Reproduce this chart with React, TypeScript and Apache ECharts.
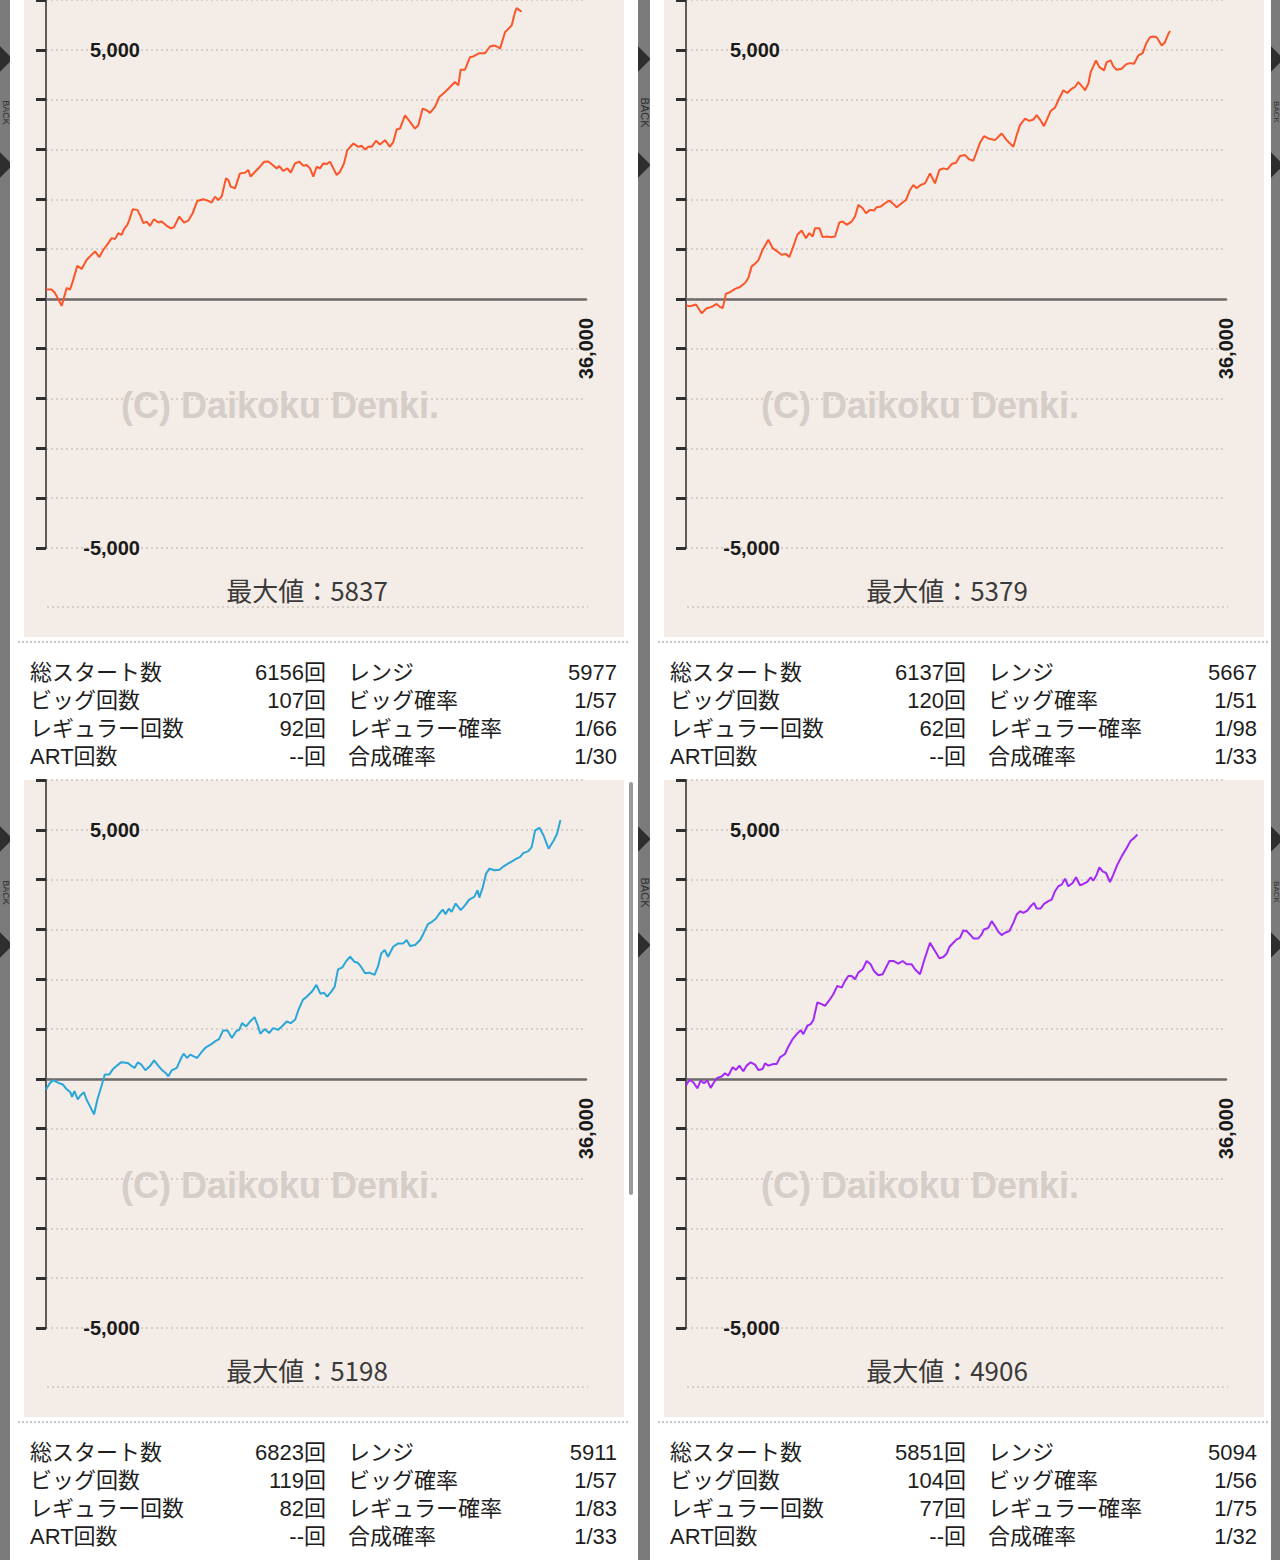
import React, { useEffect, useRef } from "react";
import * as echarts from "echarts";

// ---------- data (games on x, coin difference on y) ----------
const games1 = [0,378,600,1044,1378,1600,1822,2089,2378,2711,2933,3267,3556,3822,4156,4378,4600,4822,5044,5200,5422,5556,5778,6089,6267,6489,6711,6933,7200,7489,7711,8044,8311,8533,8889,9200,9489,9778,10089,10489,10822,11044,11267,11489,11711,12000,12156,12311,12600,12933,13267,13489,13644,13933,14267,14533,14822,15111,15378,15556,15822,16089,16311,16600,16889,17156,17378,17600,17822,18044,18267,18489,18711,18933,19156,19378,19600,19867,20089,20489,20822,21044,21267,21489,21711,22000,22267,22600,22933,23156,23378,23600,23933,24267,24600,24822,25111,25378,25600,25933,26222,26600,26933,27267,27489,27644,27933,28267,28489,28889,29267,29600,29867,30156,30267,30600,30822,31044,31267,31378,31600,31711];
const diff1 = [187,187,120,-140,220,187,387,667,600,787,853,953,840,987,1120,1220,1200,1320,1287,1400,1487,1587,1800,1787,1687,1520,1553,1467,1600,1533,1553,1467,1420,1440,1653,1533,1573,1720,1967,2000,1967,1933,2053,1987,2053,2420,2387,2253,2220,2520,2533,2587,2453,2553,2653,2753,2760,2687,2620,2667,2567,2620,2533,2720,2753,2673,2687,2620,2453,2653,2620,2720,2707,2753,2620,2487,2553,2720,2987,3120,3053,3073,3000,3053,3053,3173,3100,3187,3053,3153,3400,3420,3687,3553,3420,3487,3820,3787,3733,3853,4053,4153,4253,4353,4287,4600,4600,4853,4867,4933,4933,5067,5087,5053,5020,5353,5420,5487,5753,5837,5787,5767];

const games2 = [0,267,667,1044,1378,1711,2044,2267,2444,2667,2933,3267,3600,3933,4156,4378,4600,4822,5111,5489,5778,6089,6378,6667,6889,7156,7422,7711,8000,8222,8444,8600,8889,9111,9378,9711,9933,10222,10444,10711,11044,11267,11489,11778,12000,12267,12533,12711,12978,13267,13556,13822,14044,14378,14667,14933,15156,15378,15644,15933,16267,16600,16889,17156,17422,17711,18000,18267,18600,18889,19156,19378,19600,19867,20156,20600,21044,21378,21822,22044,22267,22600,22889,23156,23378,23600,23867,24089,24311,24600,24822,25156,25422,25711,25933,26156,26444,26600,26822,26978,27333,27556,27867,28044,28311,28489,28711,29044,29333,29600,29867,30156,30444,30667,30933,31156,31378,31711,31933,32156,32267];
const diff2 = [-133,-147,-113,-288,-187,-160,-100,-160,-187,107,133,200,240,320,420,653,707,773,987,1187,1020,953,887,900,840,1053,1287,1373,1220,1320,1253,1420,1420,1240,1253,1240,1253,1533,1553,1487,1553,1653,1887,1820,1720,1787,1773,1840,1853,1920,1973,1907,1840,1920,1987,2187,2287,2220,2287,2320,2520,2320,2587,2620,2600,2707,2733,2867,2887,2800,2773,2953,3133,3267,3220,3187,3320,3187,3053,3287,3487,3620,3573,3600,3687,3600,3467,3620,3773,3840,3987,4187,4133,4220,4253,4353,4253,4187,4320,4553,4787,4653,4587,4753,4787,4667,4600,4620,4707,4733,4720,4887,4933,5120,5253,5267,5253,5087,5153,5320,5379];

const games3 = [0,271,496,834,1127,1397,1622,1735,1893,2118,2299,2524,2704,2929,3200,3425,3695,3921,4214,4439,4732,5002,5453,5678,5904,6129,6355,6624,6918,7211,7481,7751,7977,8157,8383,8720,9013,9171,9397,9622,9847,10072,10411,10680,10974,11267,11537,11807,12100,12393,12664,12889,13069,13340,13610,13903,14128,14286,14579,14872,15142,15481,15774,16044,16314,16607,16832,17125,17396,17734,18027,18297,18523,18748,19019,19244,19469,19762,19987,20280,20551,20776,21001,21272,21565,21902,22128,22353,22579,22804,23142,23480,23818,24043,24268,24607,24944,25170,25463,25733,26003,26229,26454,26635,26860,27040,27310,27649,27942,28212,28550,28775,28888,29113,29338,29564,29902,30240,30510,30803,31096,31366,31592,31817,32155,32380,32606,32898,33169,33507,33845,34070,34296];
const diff3 = [-213,-80,-27,-80,-113,-213,-267,-360,-247,-413,-333,-267,-413,-547,-713,-413,-147,87,87,187,267,333,320,267,220,333,287,173,253,373,267,173,120,53,173,220,420,507,420,487,453,420,553,640,687,753,800,973,973,820,953,987,1120,1053,1153,1240,1067,907,1000,920,1020,987,1067,1153,1120,1187,1387,1587,1653,1753,1887,1707,1733,1653,1753,1853,2200,2240,2353,2453,2353,2333,2253,2120,2133,2087,2253,2520,2587,2453,2653,2720,2720,2787,2667,2687,2787,2920,3107,3153,3220,3320,3400,3307,3420,3353,3520,3387,3487,3600,3653,3787,3640,3840,4120,4220,4187,4200,4267,4320,4373,4420,4453,4533,4573,4653,4987,5040,4887,4620,4787,4920,5198];

const games4 = [0,222,489,756,978,1200,1422,1644,1867,2089,2378,2600,2822,3111,3333,3556,3822,4044,4311,4600,4822,5111,5267,5489,5822,6044,6267,6600,6822,7111,7422,7644,7822,8089,8311,8489,8756,9044,9267,9556,9822,10089,10378,10600,10822,11044,11267,11489,11778,12044,12311,12533,12822,13111,13333,13556,13822,14156,14444,14711,15044,15267,15600,15933,16267,16600,16889,17156,17378,17556,17822,18044,18267,18489,18711,18933,19156,19489,19711,19867,20156,20378,20600,20822,21044,21267,21556,21822,22044,22267,22489,22756,22978,23200,23378,23644,23867,24156,24378,24600,24822,25044,25267,25489,25778,26000,26267,26489,26756,26978,27156,27378,27556,27778,28000,28267,28489,28756,29044,29378,29644,29867,30089];
const diff4 = [-133,-20,-67,-188,-33,-87,-33,-180,-67,20,47,113,67,233,180,267,153,267,333,287,180,200,313,267,300,300,433,500,647,800,913,980,900,1067,1100,1180,1533,1500,1467,1580,1700,1867,1833,1967,2067,2067,2000,2133,2200,2367,2300,2167,2080,2100,2233,2367,2367,2313,2367,2300,2300,2200,2100,2433,2733,2567,2420,2447,2513,2647,2733,2800,2833,2980,2967,2900,2820,2820,2900,3000,3033,3167,3067,2953,2887,2933,2967,3133,3300,3367,3333,3380,3467,3533,3420,3420,3513,3567,3600,3767,3867,3900,4020,3867,3933,4047,3887,3913,3953,4047,3980,4100,4247,4167,4133,3953,4100,4300,4467,4633,4780,4833,4906];

// ---------- axis / labels ----------
const yTickLabels: Record<number, string> = { 5000: "5,000", [-5000]: "-5,000" };
const xTickLabels: Record<number, string> = { 36000: "36,000" };
const yMin = -5000;
const yMax = 6000;
const yStep = 1000;
const xMin = 0;
const xMax = 36000;

// ---------- stats ----------
const panelMax = [5837, 5379, 5198, 4906];
const leftLabels = ["総スタート数", "ビッグ回数", "レギュラー回数", "ART回数"];
const rightLabels = ["レンジ", "ビッグ確率", "レギュラー確率", "合成確率"];
const totalStarts = ["6156", "6137", "6823", "5851"];
const bigCounts = ["107", "120", "119", "104"];
const regCounts = ["92", "62", "82", "77"];
const artCounts = ["--", "--", "--", "--"];
const ranges = ["5977", "5667", "5911", "5094"];
const bigProbs = ["1/57", "1/51", "1/57", "1/56"];
const regProbs = ["1/66", "1/98", "1/83", "1/75"];
const totalProbs = ["1/30", "1/33", "1/33", "1/32"];

const lineColors = ["#fc5529", "#fc5529", "#2aa6d8", "#a428f6"];
const PX = [0, 640, 0, 640];
const PY = [0, 0, 780, 780];
const PINK = "#f4ece7";
const STRIP_GRAY = "#7b7b7b";
const FONT = '"Liberation Sans", "Noto Sans CJK JP", sans-serif';

function zip(xs: number[], ys: number[]) {
  return xs.map((x, i) => [x, ys[i]]);
}

function BackTab({ top, width }: { top: number; width: number }) {
  const fs = Math.max(8, width - 1);
  return (
    <div style={{ position: "absolute", left: 0, top, width, height: 200 }}>
      <div
        style={{
          position: "absolute",
          left: -9,
          top: 50,
          width: 18,
          height: 18,
          background: "#2e2e2e",
          transform: "rotate(45deg)",
        }}
      />
      <div
        style={{
          position: "absolute",
          left: (width - 50) / 2,
          top: 112 - fs / 2,
          width: 50,
          height: fs,
          transform: "rotate(90deg)",
          transformOrigin: "center",
          fontFamily: FONT,
          fontSize: fs,
          lineHeight: fs + "px",
          color: "#2e2e2e",
          textAlign: "center",
        }}
      >
        BACK
      </div>
      <div
        style={{
          position: "absolute",
          left: -9,
          top: 156,
          width: 18,
          height: 18,
          background: "#2e2e2e",
          transform: "rotate(45deg)",
        }}
      />
    </div>
  );
}

function Strip({ left, width }: { left: number; width: number }) {
  return (
    <div
      style={{
        position: "absolute",
        left,
        top: 0,
        width,
        height: 1560,
        background: STRIP_GRAY,
        overflow: "hidden",
      }}
    >
      <BackTab top={0} width={width} />
      <BackTab top={780} width={width} />
    </div>
  );
}

function StatsTable({ i }: { i: number }) {
  const left = PX[i];
  const top = PY[i] + 659;
  const leftVals = [totalStarts[i] + "回", bigCounts[i] + "回", regCounts[i] + "回", artCounts[i] + "回"];
  const rightVals = [ranges[i], bigProbs[i], regProbs[i], totalProbs[i]];
  return (
    <div style={{ position: "absolute", left, top, width: 640, height: 112, fontFamily: FONT, fontSize: 22, color: "#1e1e1e" }}>
      {leftLabels.map((lab, r) => (
        <div key={r} style={{ position: "absolute", left: 0, top: r * 28, width: 640, height: 28, lineHeight: "28px", whiteSpace: "nowrap" }}>
          <span style={{ position: "absolute", left: 30 }}>{lab}</span>
          <span style={{ position: "absolute", right: 640 - 326 }}>{leftVals[r]}</span>
          <span style={{ position: "absolute", left: 348 }}>{rightLabels[r]}</span>
          <span style={{ position: "absolute", right: 640 - 617 }}>{rightVals[r]}</span>
        </div>
      ))}
    </div>
  );
}

export default function App() {
  const ref = useRef<HTMLDivElement>(null);

  useEffect(() => {
    if (!ref.current) return;
    const chart = echarts.init(ref.current, null, { renderer: "svg" });
    const seriesData = [zip(games1, diff1), zip(games2, diff2), zip(games3, diff3), zip(games4, diff4)];

    const grids = PX.map((px, i) => ({ left: 46 + px, top: PY[i], width: 540, height: 548, containLabel: false }));
    const xAxes = PX.map((_, i) => ({
      type: "value",
      gridIndex: i,
      min: xMin,
      max: xMax,
      interval: xMax,
      axisLine: { show: true, onZero: true, lineStyle: { color: "#6c6a69", width: 2.5 } },
      axisTick: { show: false },
      splitLine: { show: false },
      axisLabel: {
        rotate: 90,
        margin: -230,
        fontSize: 20,
        fontWeight: "bold",
        fontFamily: "Liberation Sans",
        color: "#1a1a1a",
        formatter: (v: number) => xTickLabels[v] || "",
      },
    }));
    const yAxes = PX.map((_, i) => ({
      type: "value",
      gridIndex: i,
      min: yMin,
      max: yMax,
      interval: yStep,
      axisLine: { show: true, lineStyle: { color: "#5e5c5b", width: 2 } },
      axisTick: { show: true, length: 10, lineStyle: { color: "#2f2f2f", width: 3 } },
      splitLine: { show: true, lineStyle: { color: "#cbc4bf", width: 1.5, type: [2, 3] } },
      axisLabel: {
        margin: -94,
        fontSize: 20,
        fontWeight: "bold",
        fontFamily: "Liberation Sans",
        color: "#1a1a1a",
        formatter: (v: number) => yTickLabels[v] || "",
      },
    }));
    const series = seriesData.map((data, i) => ({
      type: "line",
      xAxisIndex: i,
      yAxisIndex: i,
      data,
      showSymbol: false,
      symbol: "none",
      lineStyle: { color: lineColors[i], width: 2 },
      z: 3,
    }));

    const graphics: any[] = [];
    PX.forEach((px, i) => {
      const py = PY[i];
      graphics.push({
        type: "text",
        x: 280 + px,
        y: 405 + py,
        z: 1,
        style: {
          text: "(C) Daikoku Denki.",
          fill: "#d4cdc8",
          fontSize: 36,
          fontWeight: "bold",
          fontFamily: "Liberation Sans",
          align: "center",
          verticalAlign: "middle",
        },
      });
      graphics.push({
        type: "text",
        x: 307 + px,
        y: 589 + py,
        z: 1,
        style: {
          text: "最大値：" + panelMax[i],
          fill: "#3a3a3a",
          fontSize: 26,
          fontFamily: "Noto Sans CJK JP",
          align: "center",
          verticalAlign: "middle",
        },
      });
      graphics.push({
        type: "line",
        z: 1,
        shape: { x1: 47 + px, y1: 607 + py, x2: 588 + px, y2: 607 + py },
        style: { stroke: "#cbc4bf", lineWidth: 1.5, lineDash: [2, 3] },
      });
    });

    chart.setOption({
      animation: false,
      backgroundColor: "transparent",
      grid: grids,
      xAxis: xAxes,
      yAxis: yAxes,
      series,
      graphic: { elements: graphics },
    });
    return () => chart.dispose();
  }, []);

  return (
    <div style={{ position: "absolute", left: 0, top: 0, width: 1280, height: 1560, background: "#ffffff", overflow: "hidden" }}>
      <Strip left={0} width={10} />
      <Strip left={638} width={12} />
      <Strip left={1271} width={9} />
      {PX.map((px, i) => (
        <div key={"p" + i} style={{ position: "absolute", left: 24 + px, top: PY[i], width: 600, height: 637, background: PINK }} />
      ))}
      {PX.map((px, i) => (
        <div
          key={"s" + i}
          style={{
            position: "absolute",
            left: 18 + px,
            top: PY[i] + 641,
            width: 610,
            height: 0,
            borderTop: "2px dotted #c8c8c8",
          }}
        />
      ))}
      <div style={{ position: "absolute", left: 629, top: 782, width: 4, height: 413, background: "#9a9a9a", borderRadius: 2 }} />
      <div ref={ref} style={{ position: "absolute", left: 0, top: 0, width: 1280, height: 1560, zIndex: 2 }} />
      {PX.map((_, i) => (
        <StatsTable key={"t" + i} i={i} />
      ))}
    </div>
  );
}
